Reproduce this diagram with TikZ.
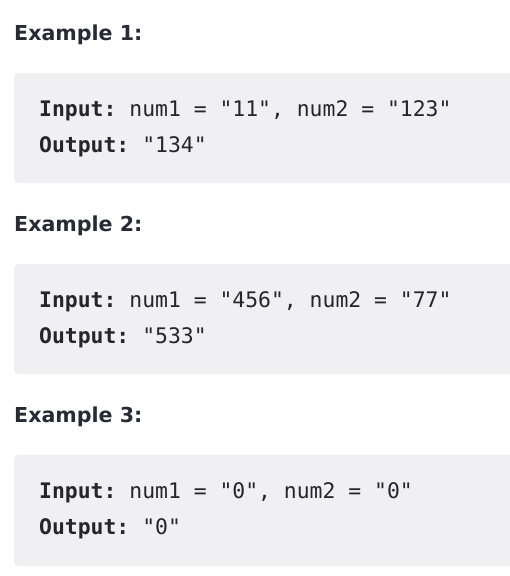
\documentclass[tikz,border=0pt]{standalone}
\usepackage{fontspec}
\setmainfont{DejaVu Sans}
\setmonofont{DejaVu Sans Mono}
\definecolor{codebg}{HTML}{F0F0F2}
\definecolor{headink}{HTML}{262B36}
\definecolor{codeink}{HTML}{262626}
\tikzset{
  heading/.style={anchor=base west, inner sep=0pt, text=headink,
    font=\fontsize{20.6}{23}\selectfont\bfseries},
  codeline/.style={anchor=base west, inner sep=0pt, text=codeink,
    font=\fontsize{21.4}{24}\selectfont\ttfamily},
  codebox/.style={fill=codebg, rounded corners=4pt}
}
\begin{document}
\begin{tikzpicture}[x=1pt, y=-1pt]
    \useasboundingbox (0,0) rectangle (510,576);
    \clip (0,0) rectangle (510,576);
    % example 1
    \node [heading] (head1) at (14,40) {Example 1:};
    \fill [codebox] (14,73) rectangle (530,183);
    \node [codeline] (in1) at (39,116) {\textbf{Input:} num1 = "11", num2 = "123"};
    \node [codeline] (out1) at (39,152) {\textbf{Output:} "134"};
    % example 2
    \node [heading] (head2) at (14,231) {Example 2:};
    \fill [codebox] (14,264) rectangle (530,374);
    \node [codeline] (in2) at (39,307) {\textbf{Input:} num1 = "456", num2 = "77"};
    \node [codeline] (out2) at (39,343) {\textbf{Output:} "533"};
    % example 3
    \node [heading] (head3) at (14,422) {Example 3:};
    \fill [codebox] (14,455) rectangle (530,566);
    \node [codeline] (in3) at (39,498) {\textbf{Input:} num1 = "0", num2 = "0"};
    \node [codeline] (out3) at (39,534) {\textbf{Output:} "0"};
\end{tikzpicture}
\end{document}
